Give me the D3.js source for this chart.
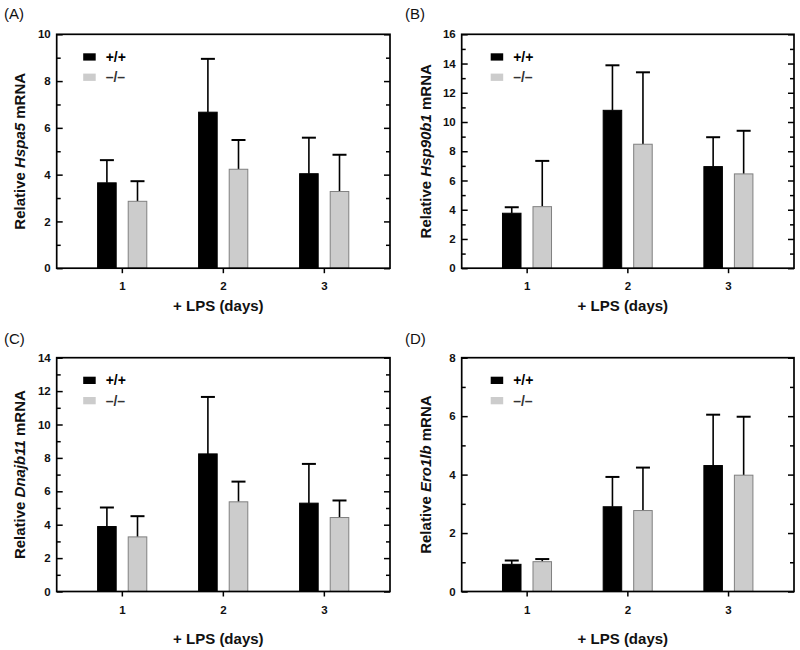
<!DOCTYPE html>
<html>
<head>
<meta charset="utf-8">
<script src="https://cdn.jsdelivr.net/npm/d3@7"></script>
<style>
  html, body { margin: 0; padding: 0; background: #fff; }
  svg { display: block; font-family: "Liberation Sans", Arial, Helvetica, sans-serif; }
</style>
</head>
<body>
<svg id="chart" width="800" height="650"></svg>
<script>
// ---- data ----
const categories = ["1", "2", "3"];
const seriesNames = ["+/+", "\u2013/\u2013"];
const panelLabels = ["(A)", "(B)", "(C)", "(D)"];
const genes = ["Hspa5", "Hsp90b1", "Dnajb11", "Ero1lb"];
const yMaxes = [10, 16, 14, 8];
const xTitle = "+ LPS (days)";

const hspa5WT      = [3.65, 6.67, 4.04];
const hspa5WTUp    = [4.62, 8.95, 5.58];
const hspa5KO      = [2.86, 4.23, 3.28];
const hspa5KOUp    = [3.72, 5.48, 4.85];

const hsp90b1WT    = [3.76, 10.80, 6.95];
const hsp90b1WTUp  = [4.17, 13.88, 8.96];
const hsp90b1KO    = [4.21, 8.48, 6.45];
const hsp90b1KOUp  = [7.34, 13.40, 9.40];

const dnajb11WT    = [3.89, 8.24, 5.29];
const dnajb11WTUp  = [5.03, 11.65, 7.64];
const dnajb11KO    = [3.27, 5.37, 4.43];
const dnajb11KOUp  = [4.51, 6.58, 5.45];

const ero1lbWT     = [0.93, 2.90, 4.31];
const ero1lbWTUp   = [1.06, 3.92, 6.05];
const ero1lbKO     = [1.02, 2.77, 3.98];
const ero1lbKOUp   = [1.11, 4.24, 5.98];

const panelMeans = [
  [hspa5WT, hspa5KO], [hsp90b1WT, hsp90b1KO], [dnajb11WT, dnajb11KO], [ero1lbWT, ero1lbKO]
];
const panelUppers = [
  [hspa5WTUp, hspa5KOUp], [hsp90b1WTUp, hsp90b1KOUp], [dnajb11WTUp, dnajb11KOUp], [ero1lbWTUp, ero1lbKOUp]
];

// ---- layout ----
const frames = [
  { left: 56.7,  right: 390, top: 34.3,  bottom: 268.2, labelX: 4,   labelY: 18.5, titleY: 306, yTitleX: 20,  legendDX: 26.5 },
  { left: 461.7, right: 794, top: 34.3,  bottom: 268.2, labelX: 405, labelY: 18.5, titleY: 306, yTitleX: 426, legendDX: 29 },
  { left: 56.7,  right: 390, top: 357.7, bottom: 591.5, labelX: 4,   labelY: 344,  titleY: 639, yTitleX: 20,  legendDX: 26.5 },
  { left: 461.7, right: 794, top: 357.7, bottom: 591.5, labelX: 405, labelY: 344,  titleY: 639, yTitleX: 426, legendDX: 29 }
];
const fills = ["#000000", "#cccccc"];
const strokes = ["#000000", "#808080"];
const barOffsets = [-0.153, 0.150]; // in units of group step
const barWidthFrac = 0.184;

const svg = d3.select("#chart");

frames.forEach((f, p) => {
  const g = svg.append("g");
  const x = d3.scaleBand().domain(categories).range([f.left, f.right]).paddingInner(0).paddingOuter(0.15);
  const y = d3.scaleLinear().domain([0, yMaxes[p]]).range([f.bottom, f.top]);
  const step = x.step();
  const bw = step * barWidthFrac;
  const cx = c => x(c) + x.bandwidth() / 2;

  // bars & error bars
  seriesNames.forEach((s, si) => {
    const means = panelMeans[p][si];
    const ups = panelUppers[p][si];
    categories.forEach((c, ci) => {
      const xc = cx(c) + barOffsets[si] * step;
      // error line
      g.append("line")
        .attr("x1", xc).attr("x2", xc)
        .attr("y1", y(means[ci])).attr("y2", y(ups[ci]))
        .attr("stroke", "#000").attr("stroke-width", 1.6);
      g.append("line")
        .attr("x1", xc - 7).attr("x2", xc + 7)
        .attr("y1", y(ups[ci])).attr("y2", y(ups[ci]))
        .attr("stroke", "#000").attr("stroke-width", 2);
      g.append("rect")
        .attr("x", xc - bw / 2).attr("width", bw)
        .attr("y", y(means[ci])).attr("height", y(0) - y(means[ci]))
        .attr("fill", fills[si]).attr("stroke", strokes[si]).attr("stroke-width", 1);
    });
  });

  // y axes (left with labels, right without), inward ticks
  const majors = d3.range(0, yMaxes[p] + 0.001, 2);
  const minors = d3.range(1, yMaxes[p], 2);
  const yLeft = d3.axisRight(y).tickValues(majors).tickSize(6).tickFormat("");
  const yLeftMinor = d3.axisRight(y).tickValues(minors).tickSize(4).tickFormat("");
  const yRight = d3.axisLeft(y).tickValues(majors).tickSize(6).tickFormat("");
  const yRightMinor = d3.axisLeft(y).tickValues(minors).tickSize(4).tickFormat("");
  [[yLeft, f.left], [yLeftMinor, f.left], [yRight, f.right], [yRightMinor, f.right]].forEach(([ax, px]) => {
    const a = g.append("g").attr("transform", `translate(${px},0)`).call(ax);
    a.select(".domain").remove();
    a.selectAll(".tick line").attr("stroke", "#000").attr("stroke-width", 1.5);
  });
  // left labels
  g.selectAll(null).data(majors).enter().append("text")
    .attr("x", f.left - 6).attr("y", d => y(d)).attr("dy", "0.36em")
    .attr("text-anchor", "end").attr("font-size", 11.5).attr("font-weight", "bold").attr("fill", "#111")
    .text(d => d);

  // x axis
  const xa = g.append("g").attr("transform", `translate(0,${f.bottom})`)
    .call(d3.axisBottom(x).tickSize(5).tickPadding(9));
  xa.select(".domain").remove();
  xa.selectAll(".tick line").attr("stroke", "#000").attr("stroke-width", 1.5);
  xa.selectAll(".tick text").attr("font-size", 11.5).attr("font-weight", "bold").attr("fill", "#111")
    .attr("font-family", "Liberation Sans, Arial, sans-serif");

  // frame
  g.append("rect")
    .attr("x", f.left).attr("y", f.top)
    .attr("width", f.right - f.left).attr("height", f.bottom - f.top)
    .attr("fill", "none").attr("stroke", "#000").attr("stroke-width", 1.7);

  // legend
  seriesNames.forEach((s, si) => {
    const ly = f.top + 19 + si * 20.3;
    g.append("rect").attr("x", f.left + f.legendDX).attr("y", ly).attr("width", 12.5).attr("height", 7.3)
      .attr("fill", fills[si]);
    g.append("text").attr("x", f.left + f.legendDX + 22.5).attr("y", ly + 3.8).attr("dy", "0.35em")
      .attr("font-size", 14).attr("font-weight", "bold").attr("fill", si === 0 ? "#000" : "#333")
      .text(s);
  });

  // x title
  g.append("text").attr("x", (f.left + f.right) / 2 - 5).attr("y", f.titleY).attr("dy", "0.35em")
    .attr("text-anchor", "middle").attr("font-size", 15).attr("font-weight", "bold").attr("fill", "#111")
    .text(xTitle);

  // y title
  const yt = g.append("text")
    .attr("transform", `translate(${f.yTitleX},${(f.top + f.bottom) / 2}) rotate(-90)`)
    .attr("text-anchor", "middle").attr("dy", "0.35em")
    .attr("font-size", 15).attr("font-weight", "bold").attr("fill", "#111");
  yt.append("tspan").text("Relative ");
  yt.append("tspan").attr("font-style", "italic").text(genes[p]);
  yt.append("tspan").text(" mRNA");

  // panel label
  g.append("text").attr("x", f.labelX).attr("y", f.labelY)
    .attr("font-size", 15).attr("fill", "#111").text(panelLabels[p]);
});
</script>
</body>
</html>
